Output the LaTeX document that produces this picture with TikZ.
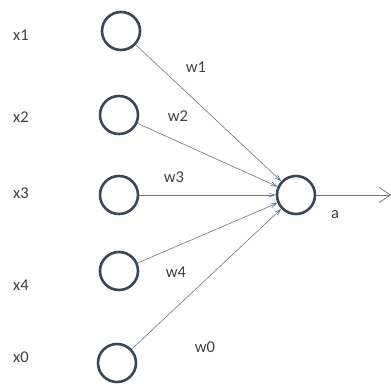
\documentclass[tikz,border=0pt]{standalone}
\usepackage{fontspec}
\setmainfont{Carlito}
\usetikzlibrary{arrows.meta}

\definecolor{ringcol}{HTML}{3B4757}
\definecolor{wirecol}{HTML}{6A7788}
\definecolor{tipcol}{HTML}{4A6FA5}

\begin{document}
\begin{tikzpicture}[x=1pt, y=-1pt,
  unit/.style={circle, draw=ringcol, line width=2.6pt, minimum size=38pt, inner sep=0pt},
  lbl/.style={font=\fontsize{16.5}{19}\selectfont, text=black!75, inner sep=0pt},
  wire/.style={draw=wirecol, line width=0.6pt, -{Straight Barb[length=6pt, width=4pt, color=tipcol]}}]

  %% ════ canvas ════
  \path[use as bounding box] (0,0) rectangle (391,385);

  %% ════ units ════
  \node[unit] (u1) at (121.0,31.0) {};
  \node[unit] (u2) at (119.0,115.0) {};
  \node[unit] (u3) at (119.0,195.0) {};
  \node[unit] (u4) at (119.0,271.0) {};
  \node[unit] (u0) at (117.0,363.0) {};
  \node[unit] (out) at (296.0,195.0) {};
  \coordinate (end) at (391.0,195.0);

  %% ════ input labels ════
  \node[lbl] (x1) at (21.0,35.0) {x1};
  \node[lbl] (x2) at (21.0,117.0) {x2};
  \node[lbl] (x3) at (21.0,193.0) {x3};
  \node[lbl] (x4) at (21.0,285.0) {x4};
  \node[lbl] (x0) at (21.0,357.0) {x0};

  %% ════ weighted wires ════
  \foreach \k in {1,2,3,4,0}
    \draw[wire] (u\k) -- (out);
  \draw[draw=wirecol, line width=0.7pt, -{Straight Barb[length=11pt, width=15pt]}] (out) -- (end);

  %% ════ weights ════
  \node[lbl] (w1) at (196.0,67.0) {w1};
  \node[lbl] (w2) at (178.0,116.0) {w2};
  \node[lbl] (w3) at (174.0,177.0) {w3};
  \node[lbl] (w4) at (176.0,272.0) {w4};
  \node[lbl] (w0) at (205.0,347.0) {w0};
  \node[lbl] (a) at (335.0,215.0) {a};
\end{tikzpicture}
\end{document}
